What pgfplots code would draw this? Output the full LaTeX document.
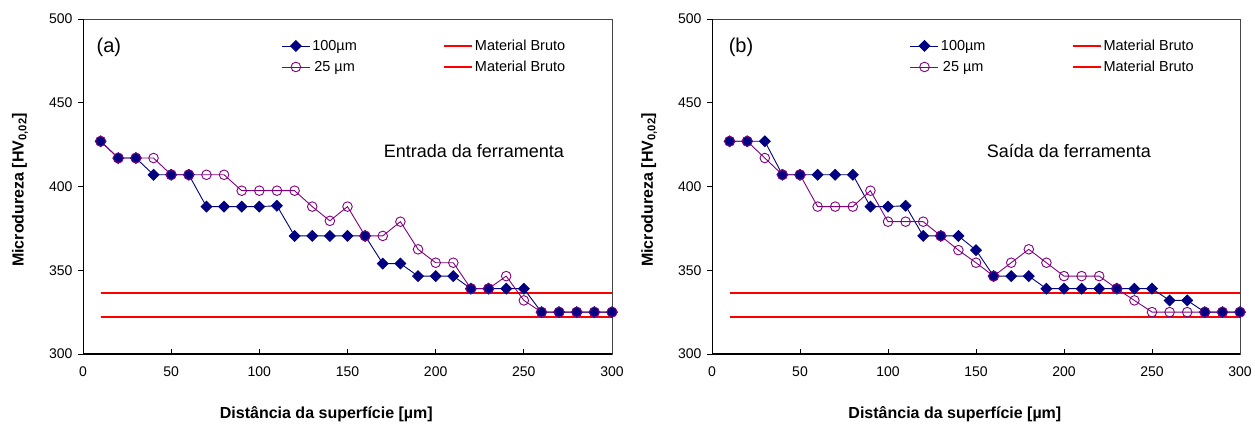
\documentclass[border=0pt]{standalone}
\usepackage{pgfplots}
\pgfplotsset{compat=1.18}
\usepackage{fontspec}
\setmainfont{Liberation Sans}
\definecolor{navyb}{RGB}{0,0,128}
\definecolor{purp}{RGB}{128,0,128}
\definecolor{framec}{RGB}{70,70,70}

\pgfplotstableread{
x y
10 427
20 417
30 417
40 407
50 407
60 407
70 388
80 388
90 388
100 388
110 388.5
120 370.5
130 370.5
140 370.5
150 370.5
160 370.5
170 354
180 354
190 346.5
200 346.5
210 346.5
220 339
230 339
240 339
250 339
260 325
270 325
280 325
290 325
300 325
}\aHundred
\pgfplotstableread{
x y
10 427
20 417
30 417
40 417
50 407
60 407
70 407
80 407
90 397.5
100 397.5
110 397.5
120 397.5
130 388
140 379.5
150 388
160 370.5
170 370.5
180 379
190 362.5
200 354.5
210 354.5
220 339
230 339
240 346.5
250 332
260 325
270 325
280 325
290 325
300 325
}\aTwentyFive
\pgfplotstableread{
x y
10 427
20 417
30 417
50 407
60 407
160 370.5
220 339
230 339
260 325
270 325
280 325
290 325
300 325
}\aBoth
\pgfplotstableread{
x y
10 427
20 427
30 427
40 407
50 407
60 407
70 407
80 407
90 388
100 388
110 388.5
120 370.5
130 370.5
140 370.5
150 362
160 346.5
170 346.5
180 346.5
190 339
200 339
210 339
220 339
230 339
240 339
250 339
260 332
270 332
280 325
290 325
300 325
}\bHundred
\pgfplotstableread{
x y
10 427
20 427
30 417
40 407
50 407
60 388
70 388
80 388
90 397.5
100 379
110 379
120 379
130 370.5
140 362
150 354.5
160 346.5
170 354.5
180 362.5
190 354.5
200 346.5
210 346.5
220 346.5
230 339
240 332
250 325
260 325
270 325
280 325
290 325
300 325
}\bTwentyFive
\pgfplotstableread{
x y
10 427
20 427
40 407
50 407
130 370.5
160 346.5
230 339
280 325
290 325
300 325
}\bBoth
\pgfplotstableread{
x y
10 336.3
300 336.3
}\redA
\pgfplotstableread{
x y
10 322.3
300 322.3
}\redB

\pgfplotsset{
  hv/.style={
    scale only axis, height=335pt,
    xmin=0, xmax=300, ymin=300, ymax=500,
    xtick={0,50,...,300}, ytick={300,350,...,500},
    tick label style={font=\fontsize{14}{16}\selectfont},
    /pgf/number format/assume math mode=true,
    xtick align=inside, ytick align=outside,
    xtick pos=lower, ytick pos=left,
    major tick length=5pt,
    tick style={black, line width=0.8pt},
    axis line style={framec, line width=0.8pt},
    xticklabel style={yshift=-9pt},
    yticklabel style={xshift=-2pt},
    xlabel={\textbf{Distância da superfície [µm]}},
    ylabel={\textbf{Microdureza [HV\textsubscript{0,02}]}},
    label style={font=\fontsize{16}{18}\selectfont},
    xlabel style={at={(axis description cs:0.46,-0.179)}, anchor=center},
    ylabel style={at={(axis description cs:-0.119,0.49)}, anchor=center},
    legend columns=2, transpose legend,
    legend style={at={(axis description cs:0.369,0.95)}, anchor=north west,
      draw=none, fill=none, font=\fontsize{14.5}{16}\selectfont,
      row sep=5pt, nodes={inner sep=2pt},
      /tikz/column 2/.style={column sep=84pt}},
    legend image code/.code={\draw[mark repeat=2,mark phase=2,##1] plot coordinates {(0pt,0pt) (14pt,0pt) (28pt,0pt)};},
    s100/.style={navyb, line width=0.9pt, mark=square*, mark size=3.8pt, mark options={rotate=45, fill=navyb, draw=navyb, solid}},
    s25/.style={purp, line width=0.9pt, mark=o, mark size=4.8pt, mark options={purp, solid, line width=0.9pt}},
    sboth/.style={only marks, mark=*, mark size=5pt, mark options={fill=navyb, draw=purp, line width=0.9pt}},
    sred/.style={red, line width=2pt, no marks},
  }
}

\begin{document}
\begin{tikzpicture}
\useasboundingbox (0,0) rectangle (1252pt,424pt);
\begin{axis}[hv, width=529pt, at={(83pt,70pt)}, anchor=south west]
  \addplot[sred, forget plot] table[x=x,y=y] {\redA};
  \addplot[sred, forget plot] table[x=x,y=y] {\redB};
  \addplot[s100] table[x=x,y=y] {\aHundred};
  \addlegendentry{100µm}
  \addplot[s25] table[x=x,y=y] {\aTwentyFive};
  \addlegendentry{25 µm}
  \addplot[sboth, forget plot] table[x=x,y=y] {\aBoth};
  \addlegendimage{sred}
  \addlegendentry{Material Bruto}
  \addlegendimage{sred}
  \addlegendentry{Material Bruto}
  \draw[black, line width=1.4pt] (rel axis cs:0,1) -- (rel axis cs:0,0) -- (rel axis cs:1,0);
  \node[font=\fontsize{20}{22}\selectfont] at (axis description cs:0.049,0.915) {(a)};
  \node[font=\fontsize{18}{20}\selectfont] at (axis description cs:0.739,0.606) {Entrada da ferramenta};
\end{axis}
\begin{axis}[hv, width=528pt, at={(712pt,70pt)}, anchor=south west]
  \addplot[sred, forget plot] table[x=x,y=y] {\redA};
  \addplot[sred, forget plot] table[x=x,y=y] {\redB};
  \addplot[s100] table[x=x,y=y] {\bHundred};
  \addlegendentry{100µm}
  \addplot[s25] table[x=x,y=y] {\bTwentyFive};
  \addlegendentry{25 µm}
  \addplot[sboth, forget plot] table[x=x,y=y] {\bBoth};
  \addlegendimage{sred}
  \addlegendentry{Material Bruto}
  \addlegendimage{sred}
  \addlegendentry{Material Bruto}
  \draw[black, line width=1.4pt] (rel axis cs:0,1) -- (rel axis cs:0,0) -- (rel axis cs:1,0);
  \node[font=\fontsize{20}{22}\selectfont] at (axis description cs:0.055,0.915) {(b)};
  \node[font=\fontsize{18}{20}\selectfont] at (axis description cs:0.676,0.606) {Saída da ferramenta};
\end{axis}
\end{tikzpicture}
\end{document}
